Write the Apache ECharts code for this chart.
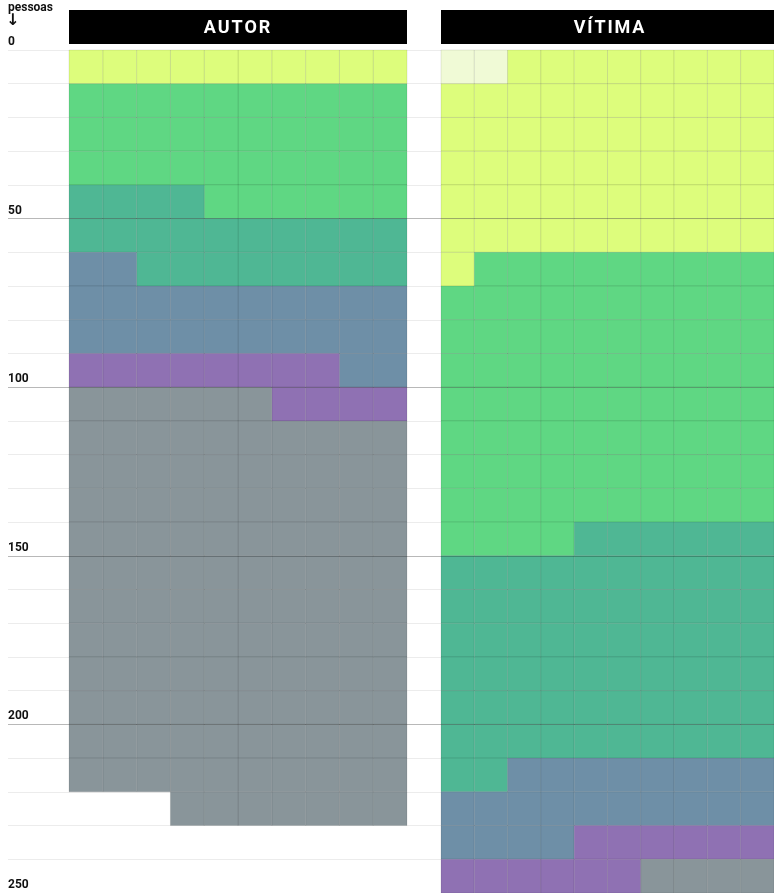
<!DOCTYPE html>
<html>
<head>
<meta charset="utf-8">
<script src="https://cdn.jsdelivr.net/npm/echarts@6/dist/echarts.min.js"></script>
<style>
  html, body { margin: 0; padding: 0; background: #fff; overflow: hidden; }
  #chart { width: 774px; height: 893px; }
</style>
</head>
<body>
<div id="chart"></div>
<script>
/* categorias (cores), na ordem em que enchem a grelha */
var categorias = ['cat0', 'cat1', 'cat2', 'cat3', 'cat4', 'cat5', 'cat6'];
var cores = ['#f0fad6', '#ddfd7c', '#5fd783', '#4fb794', '#6e8fa7', '#8f71b3', '#89959a'];

/* pessoas por categoria */
var autorCounts  = [0, 10, 36, 22, 24, 12, 123];
var vitimaCounts = [2, 59, 83, 68, 22, 12, 4];

var yTicks = [0, 50, 100, 150, 200, 250];
var porLinha = 10;

/* cada pessoa = uma célula; autor enche da direita, vítima da esquerda */
function montarCelulas(counts, daDireita) {
	var cells = [];
	var k = 0;
	counts.forEach(function (n, c) {
		for (var i = 0; i < n; i++) {
			var linha = Math.floor(k / porLinha) * porLinha;
			var col = k % porLinha;
			if (daDireita) col = porLinha - 1 - col;
			cells.push([col, linha, c]);
			k++;
		}
	});
	return cells;
}

function renderCelula(params, api) {
	var col = api.value(0), linha = api.value(1), c = api.value(2);
	var p0 = api.coord([col, linha]);
	var p1 = api.coord([col + 1, linha + porLinha]);
	return {
		type: 'rect',
		shape: { x: p0[0], y: p0[1], width: p1[0] - p0[0], height: p1[1] - p0[1] },
		style: { fill: cores[c], stroke: 'rgba(0,0,0,0.09)', lineWidth: 1 }
	};
}

var topo = 50, altura = 845;
var yMax = yTicks[yTicks.length - 1];
var linha50 = 'rgba(0,0,0,0.22)';

function painelY(idx) {
	return { gridIndex: idx, type: 'value', inverse: true, min: 0, max: yMax, show: false };
}
function painelX(idx) {
	return { gridIndex: idx, type: 'value', min: 0, max: porLinha, show: false };
}

var chart = echarts.init(document.getElementById('chart'));

var option = {
	animation: false,
	grid: [
		{ left: 8, right: 0, top: topo, height: altura },      // fundo: linhas e rótulos
		{ left: 69, width: 338, top: topo, height: altura },   // autor
		{ left: 441, width: 338, top: topo, height: altura }   // vítima
	],
	xAxis: [
		{ gridIndex: 0, type: 'value', min: 0, max: 1, show: false },
		painelX(1),
		painelX(2)
	],
	yAxis: [
		{
			gridIndex: 0, type: 'value', position: 'left', inverse: true, min: 0, max: yMax, interval: 10,
			axisLine: { show: false }, axisTick: { show: false }, axisLabel: { show: false },
			splitLine: { show: true, lineStyle: { color: '#ececec', width: 1 } }
		},
		{
			gridIndex: 0, type: 'value', position: 'left', offset: 0, inverse: true, min: 0, max: yMax, interval: 50, z: 10,
			axisLine: { show: false }, axisTick: { show: false },
			axisLabel: {
				show: true, align: 'left', verticalAlign: 'bottom', margin: 0,
				padding: [0, 0, 2, 0],
				color: '#111', fontFamily: 'Roboto', fontWeight: 'bold', fontSize: 12
			},
			splitLine: {
				show: true,
				lineStyle: {
					color: ['rgba(0,0,0,0)', linha50, linha50, linha50, linha50, 'rgba(0,0,0,0)'],
					width: 1
				}
			}
		},
		painelY(1),
		painelY(2)
	],
	graphic: [
		{ type: 'text', x: 8, y: 2, style: { text: 'pessoas', fill: '#111', font: 'bold 12px Roboto' } },
		{ type: 'text', x: 6, y: 13, style: { text: '↓', fill: '#111', font: 'bold 16px "DejaVu Sans"' } },
		{ type: 'rect', shape: { x: 69, y: 10, width: 338, height: 34 }, style: { fill: '#000' } },
		{ type: 'text', x: 237, y: 28, style: { text: 'A\u200aU\u200aT\u200aO\u200aR', fill: '#fff', font: 'bold 18px Roboto', align: 'center', verticalAlign: 'middle' } },
		{ type: 'rect', shape: { x: 441, y: 10, width: 338, height: 34 }, style: { fill: '#000' } },
		{ type: 'text', x: 609, y: 28, style: { text: 'V\u200aÍ\u200aT\u200aI\u200aM\u200aA', fill: '#fff', font: 'bold 18px Roboto', align: 'center', verticalAlign: 'middle' } }
	],
	series: [
		{
			name: 'autor', type: 'custom', xAxisIndex: 1, yAxisIndex: 2,
			renderItem: renderCelula, data: montarCelulas(autorCounts, true), silent: true
		},
		{
			name: 'vítima', type: 'custom', xAxisIndex: 2, yAxisIndex: 3,
			renderItem: renderCelula, data: montarCelulas(vitimaCounts, false), silent: true
		}
	]
};

chart.setOption(option);
</script>
</body>
</html>
